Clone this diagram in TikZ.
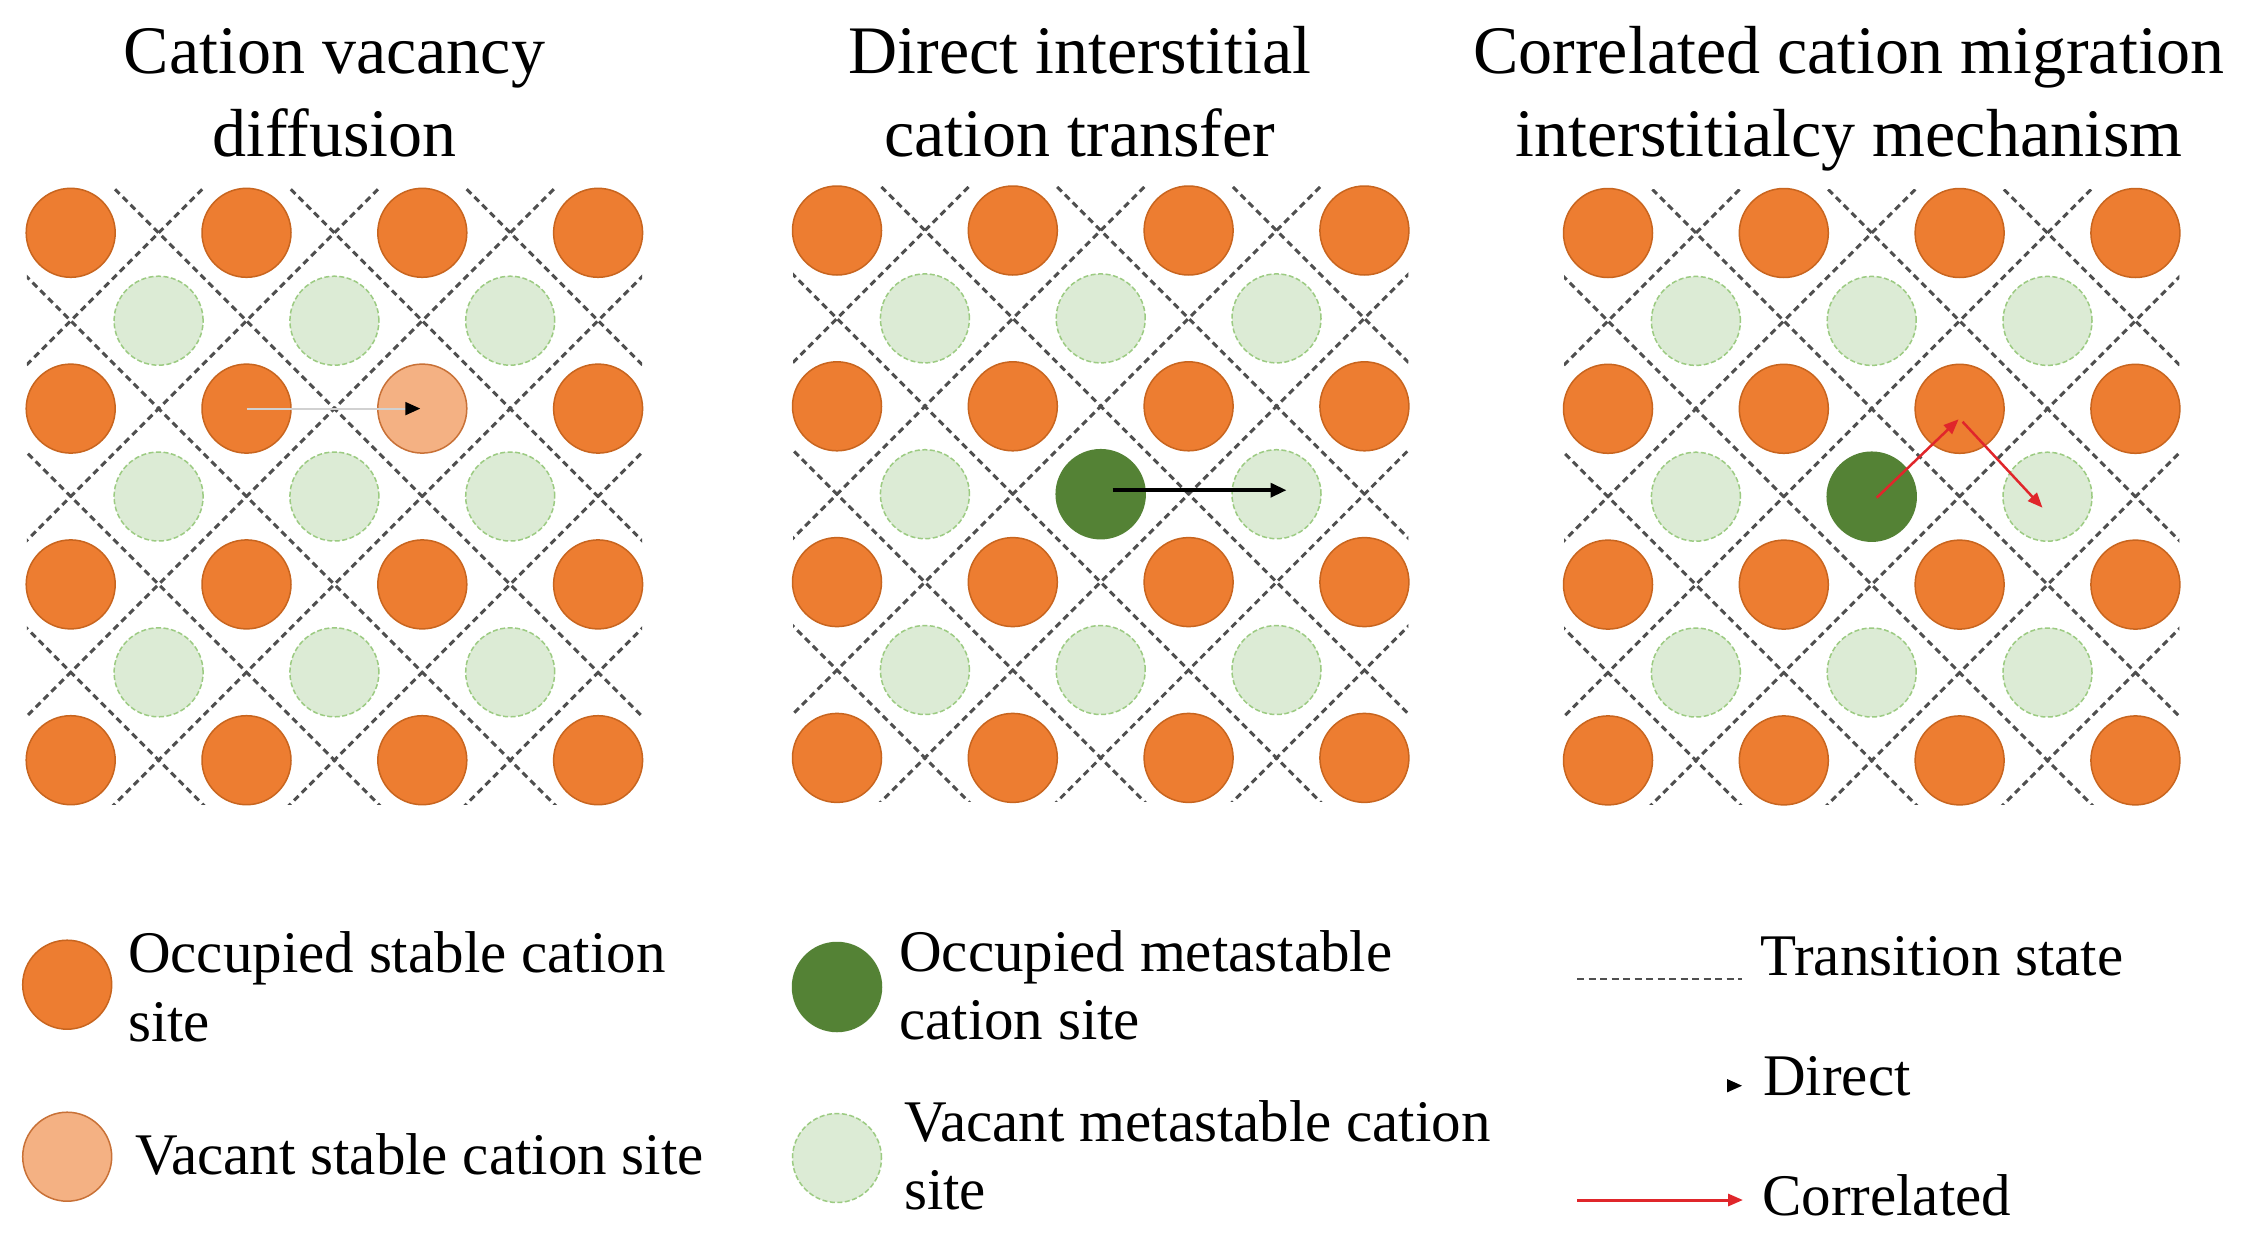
\documentclass[tikz,border=0pt]{standalone}
\usepackage{fontspec}
\setmainfont{LiberationSerif}[Extension=.ttf,UprightFont=*-Regular,BoldFont=*-Bold,ItalicFont=*-Italic]
\usetikzlibrary{arrows.meta}
\definecolor{occ}{HTML}{ED7D31}
\definecolor{occline}{HTML}{C8651F}
\definecolor{vac}{HTML}{F4B183}
\definecolor{vacline}{HTML}{C87137}
\definecolor{meta}{HTML}{DCEBD5}
\definecolor{metaline}{HTML}{9CCB82}
\definecolor{dgreen}{HTML}{548235}
\definecolor{tscol}{HTML}{4F4F4F}
\definecolor{corr}{HTML}{E0262B}

\newcommand\latticepanel[5]{%
  \begin{scope}[shift={(#2,#3)},x=175.8pt,y=-175.8pt]
    \begin{scope}
      \clip (-0.25,-0.25) rectangle (3.25,3.25);
      \foreach \c in {0.5,1.5,...,5.5}{
        \draw[tsline] (\c+1,-1) -- (-1,\c+1);
      }
      \foreach \c in {-2.5,-1.5,...,2.5}{
        \draw[tsline] (\c-1,-1) -- (\c+4,4);
      }
    \end{scope}
    \foreach \i in {0,1,2,3}{
      \foreach \j in {0,1,2,3}{
        \ifnum\i\j=#4\relax\else
          \node[occsite] (o#1-\i-\j) at (\i,\j) {};
        \fi
      }
    }
    \foreach \i in {0,1,2}{
      \foreach \j in {0,1,2}{
        \ifnum\i\j=#5\relax\else
          \node[metasite] (g#1-\i-\j) at (\i+0.5,\j+0.5) {};
        \fi
      }
    }
  \end{scope}
}

\begin{document}
\begin{tikzpicture}[x=1pt,y=-1pt,
  site/.style={circle,minimum size=89pt,inner sep=0pt,line width=1.5pt},
  occsite/.style={site,fill=occ,draw=occline},
  vacsite/.style={site,fill=vac,draw=vacline},
  metasite/.style={site,fill=meta,draw=metaline,dash pattern=on 5pt off 2.5pt},
  dgsite/.style={site,fill=dgreen,draw=dgreen},
  tsline/.style={draw=tscol,line width=3pt,dash pattern=on 6.5pt off 4.5pt},
  title/.style={font=\fontsize{68}{82}\selectfont,anchor=base,inner sep=0pt},
  legtext/.style={font=\fontsize{59}{68}\selectfont,anchor=base west,inner sep=0pt},
  directarrow/.style={line width=3.5pt,-{Triangle[length=16pt,width=14pt]}},
  corrarrow/.style={draw=corr,line width=2.5pt,-{Triangle[length=15pt,width=12pt]}},
]
\useasboundingbox[fill=white] (0,0) rectangle (2248,1239);

% titles
\node[title] (t1a) at (334.4,74) {Cation vacancy};
\node[title] (t1b) at (334.4,156) {diffusion};
\node[title] (t2a) at (1080,74) {Direct interstitial};
\node[title] (t2b) at (1080,156) {cation transfer};
\node[title] (t3a) at (1849,74) {Correlated cation migration};
\node[title] (t3b) at (1849,156) {interstitialcy mechanism};

% lattices
\latticepanel{1}{70.7}{232.8}{21}{99}
\latticepanel{2}{837}{230.5}{99}{11}
\latticepanel{3}{1608}{233}{99}{11}

% special sites
\node[vacsite] (p1vac) at (422.3,408.6) {};
\node[dgsite] (p2dark) at (1100.7,494.2) {};
\node[dgsite] (p3dark) at (1871.7,496.7) {};

% panel arrows
\draw[draw=black!18,line width=2pt,-{Triangle[length=15pt,width=13pt,color=black]},shorten >=2pt]
  (o1-1-1.center) -- (p1vac.center);
\draw[directarrow] ([xshift=12pt,yshift=4pt]p2dark.center) -- ([xshift=10pt,yshift=4pt]g2-2-1.center);
\draw[corrarrow] ([xshift=5pt,yshift=-1pt]p3dark.center) -- ([xshift=-1pt,yshift=-10.5pt]o3-2-1.center);
\draw[corrarrow] ([xshift=3pt,yshift=-13pt]o3-2-1.center) -- ([xshift=-5pt,yshift=-11pt]g3-2-1.center);

% legend
\node[occsite] (lo) at (67.2,984.7) {};
\node[legtext] (lot1) at (128,972) {Occupied stable cation};
\node[legtext] (lot2) at (128,1041) {site};
\node[vacsite] (lv) at (67.2,1156.7) {};
\node[legtext] (lvt) at (135,1174) {Vacant stable cation site};

\node[dgsite] (ldg) at (837,987) {};
\node[legtext] (ldgt1) at (899,971) {Occupied metastable};
\node[legtext] (ldgt2) at (899,1039) {cation site};
\node[metasite] (lm) at (837,1158) {};
\node[legtext] (lmt1) at (904,1141) {Vacant metastable cation};
\node[legtext] (lmt2) at (904,1209) {site};

\coordinate (ts1) at (1577,979.3);
\coordinate (ts2) at (1742,979.3);
\draw[draw=tscol,line width=2pt,dash pattern=on 7pt off 4.5pt] (ts1) -- (ts2);
\node[legtext] (tst) at (1760,975) {Transition state};

\coordinate (dh1) at (1727,1079);
\coordinate (dh2) at (1742,1085.7);
\coordinate (dh3) at (1727,1092.4);
\fill[black] (dh1) -- (dh2) -- (dh3) -- cycle;
\node[legtext] (dt) at (1763,1095) {Direct};

\coordinate (cr1) at (1577,1200);
\coordinate (cr2) at (1743,1200);
\draw[corrarrow,line width=3pt] (cr1) -- (cr2);
\node[legtext] (crt) at (1762,1215) {Correlated};
\end{tikzpicture}
\end{document}
